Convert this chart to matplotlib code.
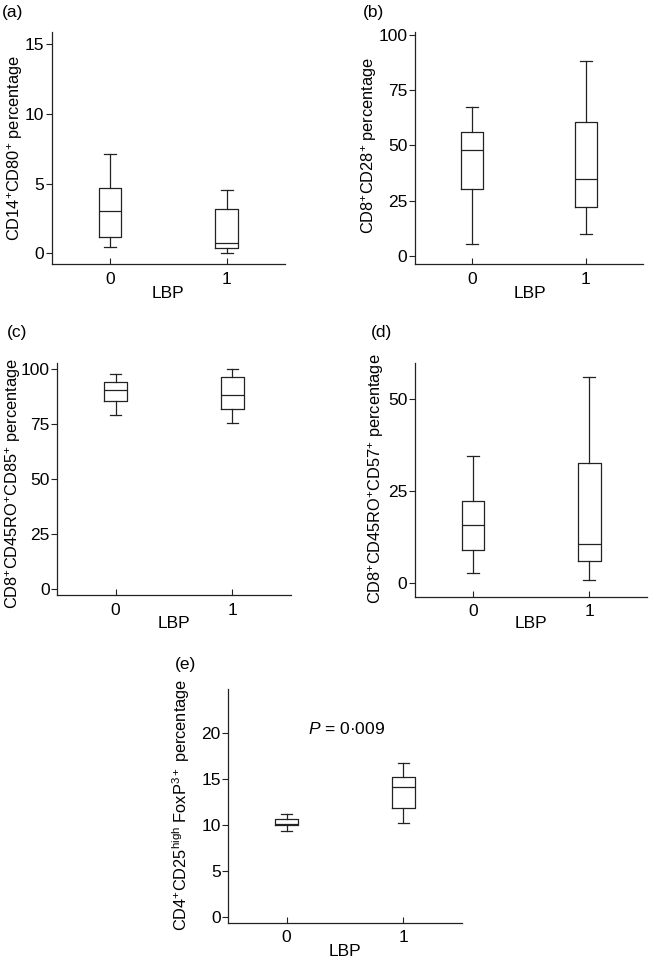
import matplotlib
matplotlib.use("Agg")
import matplotlib.pyplot as plt

plt.rcParams['font.family'] = ['Liberation Sans', 'DejaVu Sans']
plt.rcParams['mathtext.fontset'] = 'custom'
plt.rcParams['mathtext.rm'] = 'Liberation Sans'
plt.rcParams['mathtext.it'] = 'Liberation Sans:italic'
plt.rcParams['mathtext.bf'] = 'Liberation Sans:bold'

groups = [0, 1]
group_labels = ['0', '1']

# Panel (a) CD14+CD80+
a_whislo = [0.45, 0.0]
a_q1 = [1.15, 0.36]
a_med = [3.0, 0.76]
a_q3 = [4.66, 3.2]
a_whishi = [7.1, 4.54]

# Panel (b) CD8+CD28+
b_whislo = [5.3, 9.8]
b_q1 = [30.2, 22.2]
b_med = [47.8, 34.7]
b_q3 = [56.1, 60.8]
b_whishi = [67.6, 88.2]

# Panel (c) CD8+CD45RO+CD85+
c_whislo = [79.2, 75.5]
c_q1 = [85.7, 82.1]
c_med = [90.7, 88.4]
c_q3 = [94.4, 96.7]
c_whishi = [97.9, 100.3]

# Panel (d) CD8+CD45RO+CD57+
d_whislo = [2.9, 0.9]
d_q1 = [9.1, 6.1]
d_med = [15.8, 10.6]
d_q3 = [22.3, 32.7]
d_whishi = [34.6, 56.2]

# Panel (e) CD4+CD25high FoxP3+
e_whislo = [9.35, 10.18]
e_q1 = [9.98, 11.82]
e_med = [10.1, 14.15]
e_q3 = [10.65, 15.2]
e_whishi = [11.24, 16.76]

p_text = r'$P$ = 0·009'

panels = [
    dict(tag='(a)', pos=[0.0797, 0.725, 0.3595, 0.2417], ylim=(-0.77, 15.88), yticks=[0, 5, 10, 15],
         ylabel=r'CD14$^{+}$CD80$^{+}$ percentage', ylc=(-0.157, 0.5), xlc=(0.5, -0.126),
         data=(a_whislo, a_q1, a_med, a_q3, a_whishi), tagxy=(2, 12)),
    dict(tag='(b)', pos=[0.6394, 0.7247, 0.3513, 0.2423], ylim=(-3.76, 101.5), yticks=[0, 25, 50, 75, 100],
         ylabel=r'CD8$^{+}$CD28$^{+}$ percentage', ylc=(-0.2, 0.51), xlc=(0.504, -0.126),
         data=(b_whislo, b_q1, b_med, b_q3, b_whishi), tagxy=(363, 12)),
    dict(tag='(c)', pos=[0.0883, 0.3802, 0.3596, 0.2420], ylim=(-2.9, 103.0), yticks=[0, 25, 50, 75, 100],
         ylabel=r'CD8$^{+}$CD45RO$^{+}$CD85$^{+}$ percentage', ylc=(-0.19, 0.48), xlc=(0.5, -0.122),
         data=(c_whislo, c_q1, c_med, c_q3, c_whishi), tagxy=(7, 333)),
    dict(tag='(d)', pos=[0.6394, 0.3784, 0.3580, 0.2432], ylim=(-3.62, 59.8), yticks=[0, 25, 50],
         ylabel=r'CD8$^{+}$CD45RO$^{+}$CD57$^{+}$ percentage', ylc=(-0.165, 0.507), xlc=(0.5, -0.114),
         data=(d_whislo, d_q1, d_med, d_q3, d_whishi), tagxy=(371, 332)),
    dict(tag='(e)', pos=[0.3518, 0.0389, 0.3596, 0.2431], ylim=(-0.65, 24.8), yticks=[0, 5, 10, 15, 20],
         ylabel=r'CD4$^{+}$CD25$^{\mathrm{high}}$ FoxP$^{3+}$ percentage', ylc=(-0.2, 0.504), xlc=(0.5, -0.124),
         data=(e_whislo, e_q1, e_med, e_q3, e_whishi), tagxy=(175, 665)),
]

W, H = 649, 960
fig = plt.figure(figsize=(W / 100, H / 100), dpi=100)
lc = '#222222'
lw = 0.9
fs = 12.5
fs_y = 11.8

for p in panels:
    ax = fig.add_axes(p['pos'])
    wl, q1, md, q3, wh = p['data']
    stats = []
    for i in range(len(groups)):
        stats.append(dict(whislo=wl[i], q1=q1[i], med=md[i], q3=q3[i], whishi=wh[i], fliers=[]))
    ax.bxp(stats, positions=groups, widths=0.195, showfliers=False, manage_ticks=False,
           boxprops=dict(color=lc, linewidth=lw),
           medianprops=dict(color=lc, linewidth=lw),
           whiskerprops=dict(color=lc, linewidth=lw),
           capprops=dict(color=lc, linewidth=lw), capwidths=0.1)
    ax.set_xlim(-0.5, 1.5)
    ax.set_ylim(*p['ylim'])
    ax.set_yticks(p['yticks'])
    ax.set_xticks(groups)
    ax.set_xticklabels(group_labels)
    for s in ['top', 'right']:
        ax.spines[s].set_visible(False)
    for s in ['left', 'bottom']:
        ax.spines[s].set_linewidth(0.9)
        ax.spines[s].set_color(lc)
    ax.tick_params(axis='y', direction='out', length=4, width=0.8, pad=1.5, labelsize=fs, color=lc)
    ax.tick_params(axis='x', direction='in', length=4, width=0.8, pad=5.5, labelsize=fs, color=lc)
    ax.set_ylabel(p['ylabel'], fontsize=fs_y)
    ax.yaxis.set_label_coords(*p['ylc'])
    ax.set_xlabel('LBP', fontsize=fs)
    ax.xaxis.set_label_coords(*p['xlc'])
    ax.xaxis.label.set_va('center')
    ax.yaxis.label.set_va('center')
    fig.text(p['tagxy'][0] / W, 1 - p['tagxy'][1] / H, p['tag'], fontsize=fs, ha='left', va='center')
    if p['tag'] == '(e)':
        ax.text(0.51, 20.5, p_text, fontsize=fs, ha='center', va='center')

fig.savefig('out.png', dpi=100)
